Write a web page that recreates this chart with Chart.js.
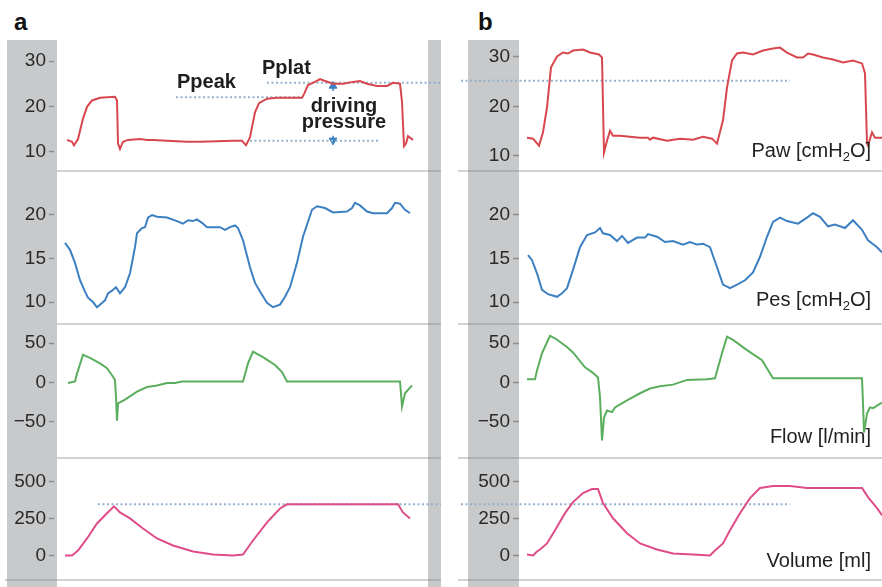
<!DOCTYPE html>
<html>
<head>
<meta charset="utf-8">
<script src="https://cdn.jsdelivr.net/npm/chart.js@4.4.0/dist/chart.umd.min.js"></script>
<style>
  html, body { margin: 0; padding: 0; background: #fff; }
  #fig { position: relative; width: 882px; height: 587px; overflow: hidden;
         font-family: 'Liberation Sans', Arial, sans-serif; color: #222; }
  #fig canvas { position: absolute; }
  .txt { position: absolute; white-space: nowrap; z-index: 2; }
  .panel { font-size: 24px; font-weight: bold; line-height: 24px; color: #111; }
  .note { font-size: 20px; font-weight: bold; line-height: 20px; color: #1e1e1e; }
  .unit { font-size: 20px; line-height: 20px; right: 11px; text-align: right; color: #222; }
  .unit sub { font-size: 13px; vertical-align: -4px; line-height: 0; }
</style>
</head>
<body>
<div id="fig">
  <div class="txt panel" style="left:14px;top:10px">a</div>
  <div class="txt panel" style="left:478px;top:10px">b</div>
  <div class="txt note" style="left:177px;top:71px">Ppeak</div>
  <div class="txt note" style="left:262px;top:57px">Pplat</div>
  <div class="txt note" style="left:298px;top:97px;width:92px;text-align:center;line-height:16px">driving<br>pressure</div>
  <div class="txt unit" style="top:140px">Paw [cmH<sub>2</sub>O]</div>
  <div class="txt unit" style="top:289px">Pes [cmH<sub>2</sub>O]</div>
  <div class="txt unit" style="top:426px">Flow [l/min]</div>
  <div class="txt unit" style="top:550px">Volume [ml]</div>
</div>
<script>
// time in s
// panel a
const tPawA = [0.26,0.36,0.40,0.48,0.58,0.66,0.76,0.92,1.22,1.26,1.28,1.32,1.38,1.48,1.72,1.86,1.98,2.26,2.66,2.92,3.58,3.76,3.84,3.92,4.02,4.10,4.26,4.46,4.96,5.00,5.08,5.22,5.32,5.42,5.58,5.78,5.98,6.12,6.26,6.46,6.66,6.78,6.92,6.96,7.00,7.04,7.08,7.18];
const pawA = [12.6,12.2,11.4,12.8,17.3,19.9,21.3,21.9,22.1,21.3,11.8,10.6,12.2,12.6,12.8,12.6,12.6,12.4,12.2,12.2,12.4,12.4,11.4,13.2,18.7,20.7,21.7,21.9,21.9,22.7,24.7,25.4,26.0,25.6,25.0,25.0,25.4,25.6,25.0,24.5,24.5,25.2,25.0,21.0,11.2,11.8,13.4,12.6];

const tPesA = [0.22,0.32,0.42,0.52,0.62,0.68,0.78,0.86,0.96,1.02,1.08,1.16,1.24,1.32,1.42,1.52,1.62,1.66,1.76,1.82,1.88,1.96,2.06,2.26,2.46,2.58,2.68,2.78,2.86,2.96,3.06,3.32,3.42,3.52,3.62,3.68,3.78,3.92,4.02,4.12,4.26,4.38,4.52,4.62,4.72,4.86,4.98,5.16,5.26,5.42,5.58,5.86,5.96,6.02,6.12,6.26,6.38,6.66,6.76,6.82,6.92,7.02,7.12];
const pesA = [16.8,16.0,14.5,12.5,11.2,10.5,10.0,9.4,9.9,10.2,11.0,11.3,11.7,11.0,11.7,13.3,16.3,17.9,18.5,18.6,19.7,20.0,19.8,19.7,19.3,19.0,19.4,19.3,19.5,19.1,18.6,18.6,18.3,18.6,18.8,18.5,17.1,14.0,12.2,11.2,9.9,9.4,9.7,10.6,11.7,14.5,17.5,20.6,21.0,20.8,20.3,20.4,20.8,21.4,21.1,20.4,20.2,20.2,20.8,21.4,21.3,20.6,20.2];

const tFlowA = [0.28,0.42,0.46,0.58,0.72,0.92,1.06,1.16,1.22,1.24,1.26,1.28,1.42,1.66,1.86,2.06,2.26,2.42,2.56,3.78,3.88,3.98,4.18,4.42,4.56,4.66,6.92,6.94,6.96,7.02,7.16];
const flowA = [-1,1,11,35,31,24,18,9,3,-19,-49,-27,-22,-12,-6,-4,-1,-1,1,1,24,39,32,22,13,1,1,-14,-31,-14,-4];

const tVolA = [0.22,0.36,0.48,0.66,0.86,1.06,1.20,1.32,1.52,1.78,2.06,2.38,2.78,3.18,3.58,3.78,3.98,4.26,4.52,4.66,6.88,6.98,7.12];
const volA = [0,0,34,116,218,287,334,293,252,184,116,68,27,7,0,7,102,225,320,348,348,293,252];

// panel b
const tPawB = [0.16,0.28,0.40,0.48,0.56,0.64,0.76,0.88,0.98,1.08,1.28,1.42,1.60,1.66,1.70,1.76,1.82,1.88,2.02,2.42,2.58,2.62,2.68,2.96,3.22,3.48,3.68,3.86,3.96,4.08,4.16,4.26,4.36,4.48,4.68,4.88,5.08,5.22,5.36,5.56,5.68,5.78,5.88,6.08,6.28,6.48,6.68,6.86,6.92,6.96,6.98,7.06,7.12,7.26];
const pawB = [13.7,13.5,12.1,14.8,19.8,27.9,30.1,30.9,30.7,31.3,31.5,30.9,30.5,29.9,10.7,13.1,15.1,14.1,14.1,13.7,13.7,13.3,13.7,13.1,13.5,13.3,13.9,13.5,12.5,17.2,23.8,29.3,30.7,30.9,30.5,31.3,31.7,31.9,30.9,29.9,29.9,30.7,30.5,29.9,29.5,28.9,29.3,28.7,26.7,12.5,12.1,14.8,13.7,13.7];

const tPesB = [0.18,0.26,0.36,0.46,0.58,0.76,0.86,0.96,1.08,1.22,1.36,1.52,1.62,1.68,1.82,1.96,2.06,2.18,2.36,2.52,2.58,2.76,2.92,3.08,3.28,3.42,3.56,3.68,3.82,3.96,4.08,4.22,4.36,4.52,4.68,4.82,4.96,5.08,5.22,5.36,5.58,5.76,5.88,6.02,6.18,6.32,6.52,6.68,6.86,6.98,7.16,7.26];
const pesB = [15.4,14.8,13.3,11.4,10.9,10.6,11.0,11.6,13.7,16.3,17.7,18.0,18.5,17.9,17.7,17.0,17.6,16.8,17.4,17.4,17.8,17.5,16.9,17.0,16.6,16.9,16.6,16.7,16.3,14.0,12.0,11.6,12.0,12.5,13.4,15.2,17.5,19.2,19.7,19.3,19.0,19.7,20.2,19.8,18.7,18.9,18.5,19.4,18.3,17.1,16.3,15.7];

const tFlowB = [0.16,0.32,0.36,0.46,0.62,0.72,0.96,1.08,1.32,1.48,1.58,1.62,1.66,1.70,1.76,1.86,1.92,2.16,2.42,2.62,2.82,3.08,3.36,3.76,3.92,4.06,4.16,4.28,4.56,4.86,5.08,6.86,6.88,6.90,6.96,7.02,7.08,7.26];
const flowB = [4,4,15,37,59,56,45,38,19,12,6,-19,-74,-45,-36,-38,-32,-23,-14,-8,-5,-3,3,4,5,37,58,54,41,28,5,5,-27,-64,-40,-32,-33,-26];

const tVolB = [0.16,0.28,0.36,0.42,0.56,0.72,0.92,1.08,1.28,1.46,1.58,1.68,1.88,2.16,2.42,2.76,3.08,3.48,3.82,3.92,4.08,4.22,4.42,4.62,4.82,5.08,5.42,5.76,6.86,6.98,7.16,7.26];
const volB = [7,0,27,41,82,171,288,363,425,452,452,356,253,151,82,41,14,7,0,34,82,171,288,390,459,473,473,459,459,397,322,274];

// reference levels (dotted) and their time spans
const ppeakLevel = 22.0, ppeakSpan = [2.44, 4.96];
const pplatLevel = 25.2, pplatSpanA = [4.26, 7.74], pplatSpanB = [-1.16, 5.42];
const peepLevel = 12.4, peepSpan = [3.92, 6.48];
const vtLevel = 348, vtSpanA = [0.88, 7.74], vtSpanB = [-1.16, 5.42];
const arrowT = 5.58, arrowUp = [23.4, 24.5], arrowDown = [13.5, 12.5];

// tick values
const pawTicks = [10, 20, 30];
const pesTicks = [10, 15, 20];
const flowTicks = [-50, 0, 50];
const volTicks = [0, 250, 500];

const RED = '#d8474e', BLUE = '#3d80c2', GREEN = '#5bae5e', PINK = '#de4d8a';
const DOT = '#93b1cf', BAND = '#c8c9cb';

const pts = (ts, vs) => ts.map((t, i) => ({ x: t, y: vs[i] }));
const hline = (span, v) => ({
  data: [{ x: span[0], y: v }, { x: span[1], y: v }],
  borderColor: DOT, borderWidth: 2, borderDash: [2, 2.5], clip: false, pointRadius: 0
});
const arrow = (ys, rot) => ({
  data: [{ x: arrowT, y: ys[0] }, { x: arrowT, y: ys[1] }],
  borderColor: BLUE, borderWidth: 1.5, clip: false,
  pointStyle: 'triangle', pointRadius: [0, 4.5], pointRotation: rot,
  pointBackgroundColor: BLUE, pointBorderColor: BLUE, pointBorderWidth: 1
});
const curve = (ts, vs, c) => ({ data: pts(ts, vs), borderColor: c, borderWidth: 2, pointRadius: 0 });

// gray bands and row separators
const deco = {
  id: 'deco',
  beforeDraw(chart, args, o) {
    const ctx = chart.ctx, w = chart.width, h = chart.height;
    ctx.save();
    ctx.fillStyle = BAND;
    o.bands.forEach(b => ctx.fillRect(b[0], 0, b[1] - b[0], h));
    ctx.fillStyle = 'rgba(130,130,130,0.35)';
    if (o.sepTop) ctx.fillRect(o.sepFrom, 0, w - o.sepFrom, 2);
    if (o.sepBottom) ctx.fillRect(o.sepBottomFrom, chart.chartArea.bottom - 1, w - o.sepBottomFrom, 2);
    ctx.restore();
  }
};

const rows = [
  { top: 40, h: 130, min: 7.17, max: 33.43, ticks: pawTicks, padB: 0 },
  { top: 170, h: 153, min: 7.59, max: 25.17, ticks: pesTicks, padB: 0 },
  { top: 323, h: 134, min: -95.2, max: 75.5, ticks: flowTicks, padB: 0 },
  { top: 457, h: 130, min: -166.7, max: 670, ticks: volTicks, padB: 7 }
];
const panels = [
  { left: 0, width: 441, axisW: 54, padR: 13, xMax: 7.48, tickLen: 5,
    bands: [[7, 57], [428, 441]], sepFrom: 57, sepBottomFrom: 5 },
  { left: 441, width: 441, axisW: 78, padR: 0, xMax: 7.26, tickLen: 6,
    bands: [[27, 78]], sepFrom: 17, sepBottomFrom: 17 }
];

const datasets = [
  [
    [curve(tPawA, pawA, RED), hline(ppeakSpan, ppeakLevel), hline(pplatSpanA, pplatLevel),
     hline(peepSpan, peepLevel), arrow(arrowUp, 0), arrow(arrowDown, 180)],
    [curve(tPesA, pesA, BLUE)],
    [curve(tFlowA, flowA, GREEN)],
    [curve(tVolA, volA, PINK), hline(vtSpanA, vtLevel)]
  ],
  [
    [curve(tPawB, pawB, RED), hline(pplatSpanB, pplatLevel)],
    [curve(tPesB, pesB, BLUE)],
    [curve(tFlowB, flowB, GREEN)],
    [curve(tVolB, volB, PINK), hline(vtSpanB, vtLevel)]
  ]
];

const fig = document.getElementById('fig');
panels.forEach((p, pi) => {
  rows.forEach((r, ri) => {
    const cv = document.createElement('canvas');
    cv.width = p.width; cv.height = r.h;
    cv.style.left = p.left + 'px'; cv.style.top = r.top + 'px';
    fig.appendChild(cv);
    new Chart(cv, {
      type: 'line',
      data: { datasets: datasets[pi][ri] },
      plugins: [deco],
      options: {
        responsive: false, animation: false, devicePixelRatio: 1,
        layout: { padding: { left: 0, right: p.padR, top: 0, bottom: r.padB } },
        elements: { line: { tension: 0 } },
        plugins: {
          legend: { display: false }, tooltip: { enabled: false },
          deco: { bands: p.bands, sepTop: ri > 0, sepFrom: p.sepFrom,
                  sepBottom: ri === 3, sepBottomFrom: p.sepBottomFrom }
        },
        scales: {
          x: { type: 'linear', display: false, min: 0, max: p.xMax },
          y: {
            min: r.min, max: r.max,
            afterBuildTicks: s => { s.ticks = r.ticks.map(v => ({ value: v })); },
            afterFit: s => { s.width = p.axisW; s.paddingTop = 0; s.paddingBottom = 0; },
            ticks: {
              padding: 3, color: '#2a2a2a',
              font: { family: "'Liberation Sans', Arial, sans-serif", size: 19 },
              callback: v => v < 0 ? '\u2212' + Math.abs(v) : String(v)
            },
            grid: { drawOnChartArea: false, drawTicks: true, tickLength: p.tickLen,
                    tickColor: '#8c8c8c', tickWidth: 1.5 },
            border: { display: false }
          }
        }
      }
    });
  });
});
</script>
</body>
</html>
